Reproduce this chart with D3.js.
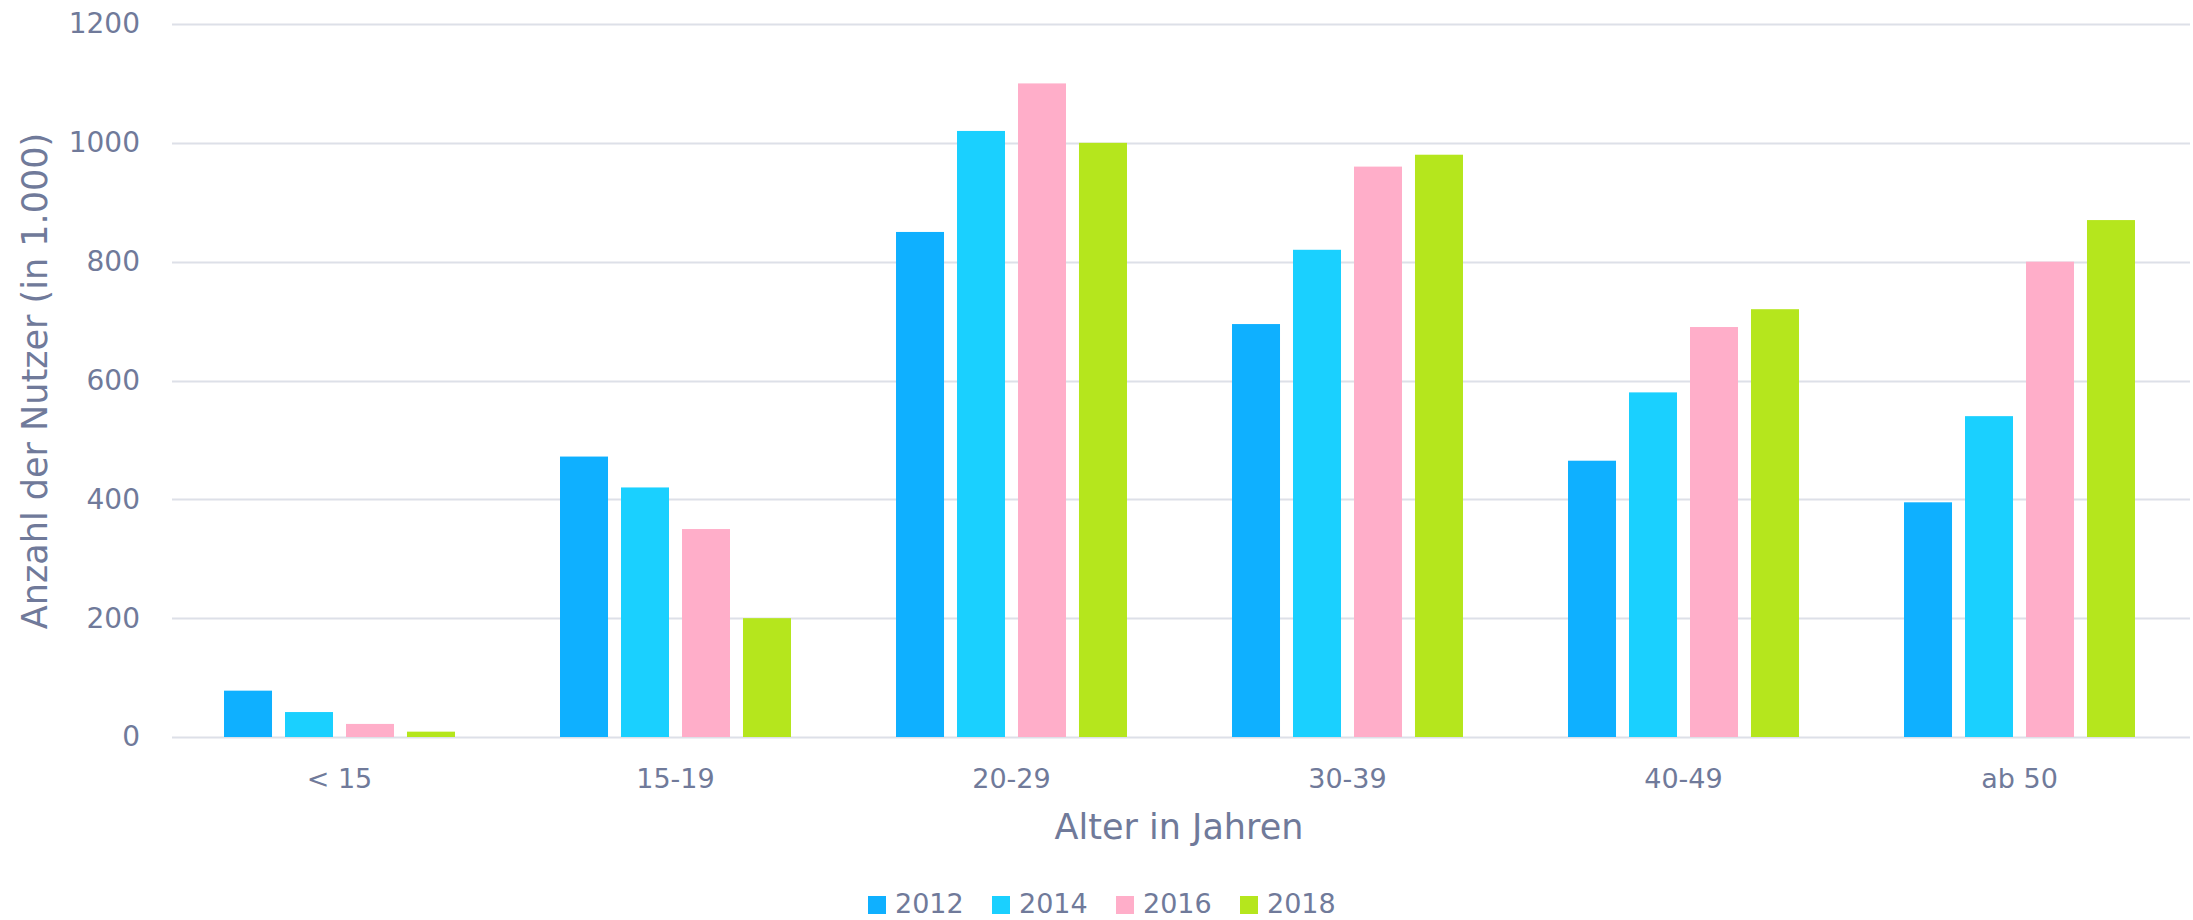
<!DOCTYPE html>
<html>
<head>
<meta charset="utf-8">
<script src="https://cdn.jsdelivr.net/npm/d3@7"></script>
<style>
  body { margin: 0; background: #fff; }
  text { font-family: "DejaVu Sans", "Noto Sans", sans-serif; fill: #707a9a; }
</style>
</head>
<body>
<div id="chart"></div>
<script>
// data
var ageGroups = ["< 15", "15-19", "20-29", "30-39", "40-49", "ab 50"];
var years = ["2012", "2014", "2016", "2018"];
var users2012 = [78, 472, 850, 695, 465, 395];
var users2014 = [42, 420, 1020, 820, 580, 540];
var users2016 = [22, 350, 1100, 960, 690, 800];
var users2018 = [9, 200, 1000, 980, 720, 870];
var yTicks = [0, 200, 400, 600, 800, 1000, 1200];
var colors = ["#0fb0ff", "#1ad0ff", "#ffaec9", "#b5e61d"];

var seriesValues = [users2012, users2014, users2016, users2018];

var svgWidth = 2193;
var svgHeight = 920;

var svg = d3.select("#chart")
  .append("svg")
  .attr("width", svgWidth)
  .attr("height", svgHeight);

var gridLeft = 172, gridRight = 2190;
var y = d3.scaleLinear()
  .domain([0, 1200])
  .range([737, 24]);

var x0 = d3.scaleBand()
  .domain(ageGroups)
  .range([171.5, 2187.5]);

var x1 = d3.scaleBand()
  .domain(years)
  .range([0, x0.bandwidth()])
  .paddingInner(0.213)
  .paddingOuter(0.861);

var color = d3.scaleOrdinal().domain(years).range(colors);

// gridlines
svg.append("g")
  .selectAll("line")
  .data(yTicks)
  .enter()
  .append("line")
  .attr("x1", gridLeft)
  .attr("x2", gridRight)
  .attr("y1", d => Math.round(y(d)) + 0.5)
  .attr("y2", d => Math.round(y(d)) + 0.5)
  .attr("stroke", "#dde0e8")
  .attr("stroke-width", 2);

// y axis labels
var leftAxis = d3.axisLeft(y)
  .tickValues(yTicks)
  .tickFormat(d3.format("d"))
  .tickSize(0)
  .tickPadding(0);
var yAxis = svg.append("g")
  .attr("transform", "translate(140,0)")
  .call(leftAxis);
yAxis.select(".domain").remove();
yAxis.selectAll("text")
  .style("font-size", "28px")
  .style("font-family", "'DejaVu Sans', sans-serif")
  .attr("fill", "#707a9a");

// bars
var rows = ageGroups.map(function(g, i) {
  return { group: g, vals: years.map(function(yr, j) { return { year: yr, value: seriesValues[j][i] }; }) };
});

var groups = svg.append("g")
  .selectAll("g")
  .data(rows)
  .enter()
  .append("g")
  .attr("transform", d => `translate(${x0(d.group)},0)`);

groups.selectAll("rect")
  .data(d => d.vals)
  .enter()
  .append("rect")
  .attr("x", d => x1(d.year))
  .attr("width", x1.bandwidth())
  .attr("y", d => y(d.value))
  .attr("height", d => y(0) - y(d.value))
  .attr("fill", d => color(d.year));

// x axis labels
var bottomAxis = d3.axisBottom(x0).tickSize(0).tickPadding(0);
var xAxis = svg.append("g")
  .attr("transform", "translate(0,769)")
  .call(bottomAxis);
xAxis.select(".domain").remove();
xAxis.selectAll("text")
  .style("font-size", "27px")
  .style("font-family", "'DejaVu Sans', sans-serif")
  .attr("fill", "#707a9a");

// axis titles
svg.append("text")
  .attr("x", 1179)
  .attr("y", 839)
  .attr("text-anchor", "middle")
  .style("font-size", "35px")
  .text("Alter in Jahren");

svg.append("text")
  .attr("transform", "translate(47,381) rotate(-90)")
  .attr("text-anchor", "middle")
  .style("font-size", "35px")
  .text("Anzahl der Nutzer (in 1.000)");

// legend
var legend = svg.append("g")
  .selectAll("g")
  .data(years)
  .enter()
  .append("g")
  .attr("transform", (d, i) => `translate(${868 + i * 124},896)`);

legend.append("rect")
  .attr("width", 18)
  .attr("height", 18)
  .attr("fill", d => color(d));

legend.append("text")
  .attr("x", 27)
  .attr("y", 17)
  .style("font-size", "27px")
  .text(d => d);
</script>
</body>
</html>
